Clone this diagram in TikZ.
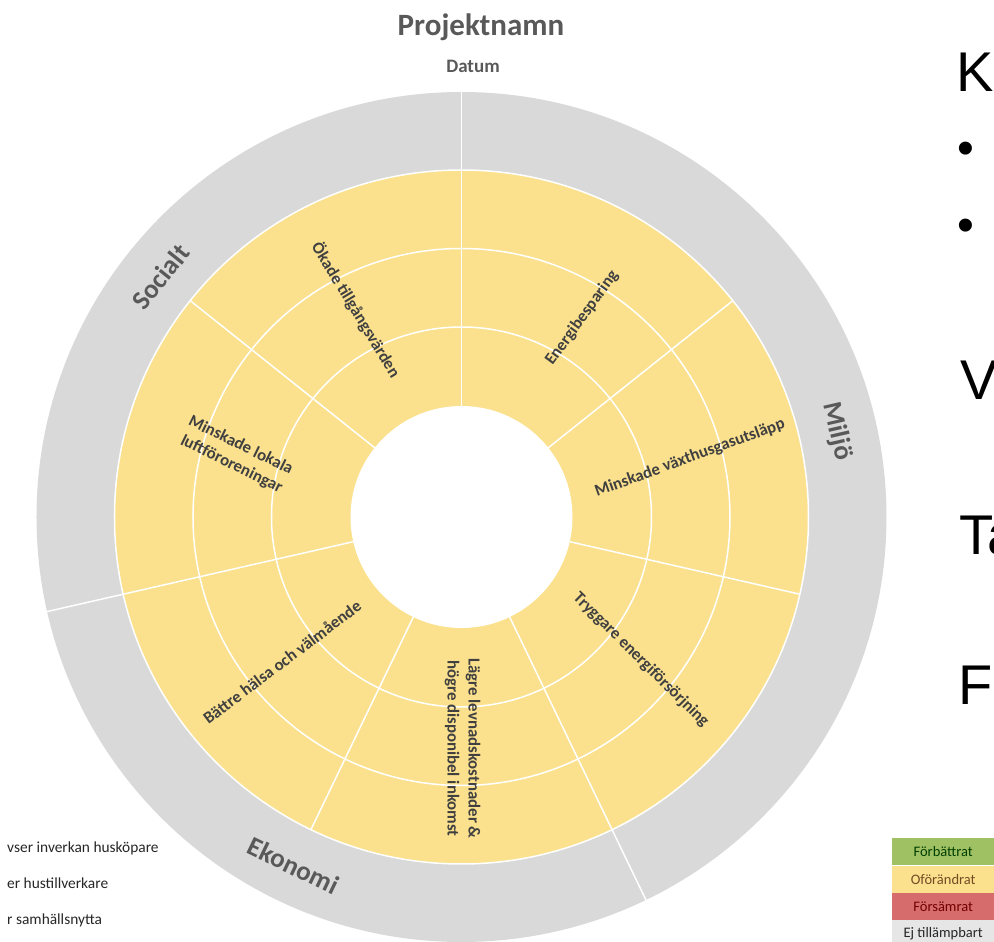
\documentclass[tikz,border=0pt]{standalone}
\usepackage{fontspec}
\setmainfont{Carlito}
\newfontfamily\slidefont{Liberation Sans}
\usetikzlibrary{positioning}

\definecolor{ringgrey}{RGB}{217,217,217}
\definecolor{cellyellow}{RGB}{251,225,141}
\definecolor{headgrey}{RGB}{89,89,89}
\definecolor{textgrey}{RGB}{64,64,64}
\definecolor{bettergreen}{RGB}{160,192,100}
\definecolor{worsered}{RGB}{214,108,108}
\definecolor{nagrey}{RGB}{231,230,230}

\begin{document}
\begin{tikzpicture}[x=1pt,y=1pt,
    item/.style={text=textgrey,font=\fontsize{16.8}{21}\selectfont\bfseries,align=center,inner sep=0pt},
    area/.style={text=headgrey,font=\fontsize{27}{30}\selectfont\bfseries,inner sep=0pt},
    spoke/.style={white,line width=1.5pt},
    legendrow/.style={minimum width=102pt,minimum height=27pt,inner sep=0pt,font=\fontsize{14.5}{16}\selectfont},
    note/.style={anchor=base west,inner sep=0pt,font=\fontsize{15.4}{18}\selectfont,text=black!85},
    slide/.style={anchor=base west,inner sep=0pt,font=\slidefont\fontsize{56}{60}\selectfont}]
    \useasboundingbox (-461.5,-425) rectangle (532.5,517);
    \clip (-461.5,-425) rectangle (532.5,517);

    \fill[ringgrey] (0,0) circle[radius=425pt];
    \fill[cellyellow] (0,0) circle[radius=347pt];
    \fill[white] (0,0) circle[radius=111pt];
    \foreach \r in {190,268.5,347}
        \draw[spoke] (0,0) circle[radius=\r pt];
    \foreach \k in {0,...,6}
        \draw[spoke] ({90-\k*360/7}:111pt) -- ({90-\k*360/7}:347pt);
    \foreach \k in {0,3,5}
        \draw[spoke] ({90-\k*360/7}:347pt) -- ({90-\k*360/7}:430pt);

    \node[area,rotate=51.43] (socialt) at (141.43:385pt) {Socialt};
    \node[area,rotate=-77.14] (miljo) at (12.86:385pt) {Miljö};
    \node[area,rotate=-25.71] (ekonomi) at (-115.71:387pt) {Ekonomi};

    \node[item,rotate=54] (energi) at (120.5,199) {Energibesparing};
    \node[item,rotate=20] (vaxthus) at (228.5,59) {Minskade växthusgasutsläpp};
    \node[item,rotate=-44.6] (trygg) at (179.5,-143) {Tryggare energiförsörjning};
    \node[item,rotate=-90] (lagre) at (1,-231.5) {Lägre levnadskostnader \&\\högre disponibel inkomst};
    \node[item,rotate=37] (halsa) at (-179.5,-145) {Bättre hälsa och välmående};
    \node[item,rotate=-26] (luft) at (-225.5,62) {Minskade lokala\\luftföroreningar};
    \node[item,rotate=-58.7] (okade) at (-105.5,207) {Ökade tillgångsvärden};

    \node[anchor=base,inner sep=0pt,text=headgrey,font=\fontsize{31}{33}\selectfont\bfseries] (title) at (19.5,481) {Projektnamn};
    \node[anchor=base,inner sep=0pt,text=headgrey,font=\fontsize{19}{20}\selectfont\bfseries] (date) at (11.5,444.3) {Datum};

    \node[legendrow,anchor=north west,fill=bettergreen,text=green!25!black] (better) at (430.5,-321) {Förbättrat};
    \node[legendrow,fill=cellyellow,text=brown!60!black,below=0pt of better] (same) {Oförändrat};
    \node[legendrow,fill=worsered,text=red!45!black,below=0pt of same] (worse) {Försämrat};
    \node[legendrow,fill=nagrey,text=black!85,below=0pt of worse] (na) {Ej tillämpbart};

    \node[note] (buyer) at (-454.5,-336) {vser inverkan husköpare};
    \node[note] (maker) at (-454.5,-371) {er hustillverkare};
    \node[note] (society) at (-454.5,-407) {r samhällsnytta};

    \node[slide] (k) at (494.5,425) {K};
    \node[slide,font=\slidefont\fontsize{48}{50}\selectfont] (bulla) at (495.5,352) {•};
    \node[slide,font=\slidefont\fontsize{48}{50}\selectfont] (bullb) at (495.5,275) {•};
    \node[slide] (v) at (498.5,117) {V};
    \node[slide] (ta) at (497.5,-38) {Ta};
    \node[slide] (f) at (497,-188) {F};
\end{tikzpicture}
\end{document}
